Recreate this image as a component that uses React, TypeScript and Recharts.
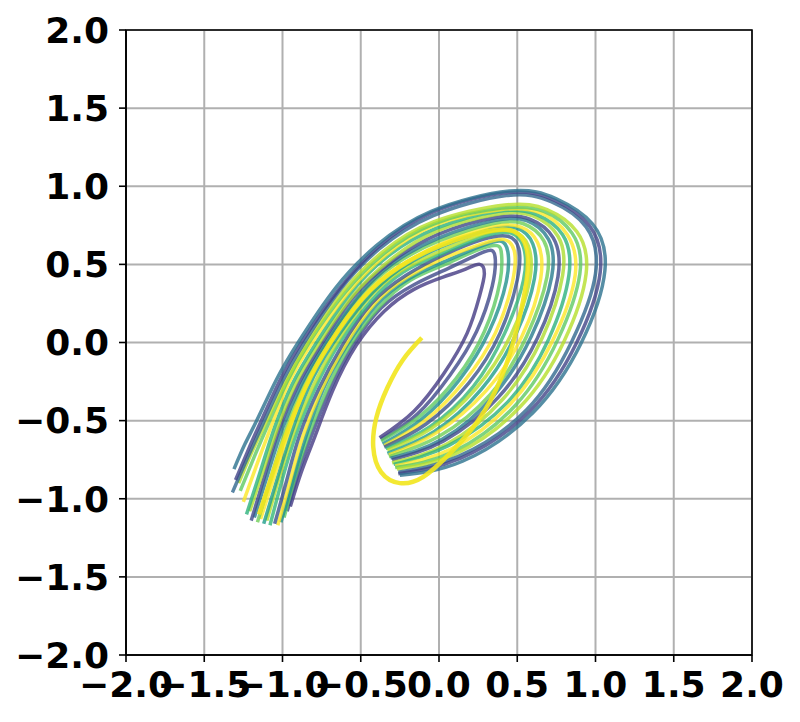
import React from 'react'
import { LineChart, Line, XAxis, YAxis, CartesianGrid, ReferenceArea } from 'recharts'

type Pt = [number, number]

const TICKS = [-2, -1.5, -1, -0.5, 0, 0.5, 1, 1.5, 2]

// trajectories, inner (c00) to outer (c20)
const c00: Pt[] = [[-0.95, -1.05], [-0.88, -0.83], [-0.80, -0.62], [-0.68, -0.31], [-0.53, -0.02], [-0.35, 0.20], [-0.16, 0.34], [0.03, 0.42], [0.17, 0.47], [0.26, 0.50], [0.29, 0.44], [0.26, 0.30], [0.18, 0.06], [0.03, -0.20], [-0.16, -0.44], [-0.38, -0.61]]
const c01: Pt[] = [[-0.97, -1.08], [-0.90, -0.84], [-0.82, -0.61], [-0.70, -0.31], [-0.55, -0.02], [-0.37, 0.22], [-0.16, 0.37], [0.05, 0.47], [0.22, 0.55], [0.33, 0.59], [0.36, 0.53], [0.34, 0.36], [0.24, 0.07], [0.07, -0.21], [-0.14, -0.46], [-0.37, -0.62]]
const c02: Pt[] = [[-0.99, -1.12], [-0.92, -0.86], [-0.84, -0.61], [-0.72, -0.31], [-0.57, -0.02], [-0.38, 0.23], [-0.18, 0.40], [0.04, 0.50], [0.24, 0.59], [0.37, 0.62], [0.40, 0.56], [0.39, 0.39], [0.29, 0.07], [0.11, -0.23], [-0.12, -0.47], [-0.37, -0.63]]
const c03: Pt[] = [[-1.01, -1.15], [-0.93, -0.87], [-0.85, -0.60], [-0.74, -0.30], [-0.59, -0.02], [-0.40, 0.24], [-0.19, 0.41], [0.04, 0.52], [0.25, 0.61], [0.39, 0.65], [0.44, 0.58], [0.43, 0.39], [0.32, 0.07], [0.13, -0.24], [-0.11, -0.49], [-0.36, -0.65]]
const c04: Pt[] = [[-1.03, -1.17], [-0.95, -0.88], [-0.87, -0.60], [-0.75, -0.30], [-0.60, -0.02], [-0.41, 0.25], [-0.20, 0.42], [0.03, 0.54], [0.27, 0.63], [0.41, 0.66], [0.48, 0.59], [0.47, 0.39], [0.36, 0.06], [0.16, -0.25], [-0.09, -0.50], [-0.35, -0.66]]
const c05: Pt[] = [[-1.05, -1.16], [-0.97, -0.87], [-0.89, -0.59], [-0.77, -0.30], [-0.62, -0.02], [-0.43, 0.25], [-0.21, 0.43], [0.03, 0.56], [0.28, 0.66], [0.44, 0.68], [0.51, 0.60], [0.50, 0.40], [0.39, 0.06], [0.19, -0.26], [-0.08, -0.52], [-0.35, -0.67]]
const c06: Pt[] = [[-1.08, -1.17], [-1.00, -0.87], [-0.91, -0.58], [-0.79, -0.29], [-0.64, -0.01], [-0.44, 0.26], [-0.23, 0.45], [0.02, 0.57], [0.29, 0.68], [0.46, 0.70], [0.54, 0.61], [0.54, 0.40], [0.42, 0.06], [0.22, -0.28], [-0.06, -0.54], [-0.34, -0.68]]
const c07: Pt[] = [[-1.10, -1.14], [-1.02, -0.86], [-0.93, -0.58], [-0.81, -0.29], [-0.66, -0.01], [-0.46, 0.27], [-0.24, 0.46], [0.02, 0.59], [0.30, 0.70], [0.48, 0.71], [0.57, 0.62], [0.58, 0.40], [0.46, 0.05], [0.24, -0.29], [-0.05, -0.55], [-0.33, -0.69]]
const c08: Pt[] = [[-1.12, -1.16], [-1.03, -0.86], [-0.94, -0.57], [-0.83, -0.28], [-0.68, -0.01], [-0.47, 0.27], [-0.25, 0.47], [0.01, 0.61], [0.31, 0.72], [0.50, 0.73], [0.60, 0.63], [0.61, 0.41], [0.49, 0.05], [0.27, -0.30], [-0.03, -0.57], [-0.33, -0.71]]
const c09: Pt[] = [[-1.14, -1.13], [-1.05, -0.85], [-0.96, -0.57], [-0.85, -0.28], [-0.70, -0.01], [-0.49, 0.28], [-0.26, 0.48], [0.01, 0.63], [0.32, 0.74], [0.52, 0.74], [0.63, 0.64], [0.65, 0.41], [0.53, 0.04], [0.30, -0.31], [-0.02, -0.58], [-0.32, -0.72]]
const c10: Pt[] = [[-1.16, -1.15], [-1.07, -0.85], [-0.98, -0.56], [-0.87, -0.28], [-0.72, -0.01], [-0.51, 0.29], [-0.28, 0.50], [0.00, 0.65], [0.34, 0.76], [0.54, 0.76], [0.67, 0.65], [0.69, 0.42], [0.56, 0.04], [0.33, -0.33], [0.00, -0.60], [-0.32, -0.73]]
const c11: Pt[] = [[-1.18, -1.12], [-1.09, -0.83], [-1.00, -0.55], [-0.88, -0.27], [-0.73, -0.01], [-0.52, 0.29], [-0.29, 0.51], [0.00, 0.67], [0.35, 0.78], [0.56, 0.78], [0.70, 0.66], [0.72, 0.42], [0.59, 0.04], [0.35, -0.34], [0.02, -0.62], [-0.31, -0.74]]
const c12: Pt[] = [[-1.20, -1.14], [-1.11, -0.84], [-1.02, -0.55], [-0.90, -0.27], [-0.75, -0.01], [-0.54, 0.30], [-0.30, 0.52], [-0.01, 0.69], [0.36, 0.80], [0.58, 0.79], [0.73, 0.67], [0.76, 0.42], [0.63, 0.03], [0.38, -0.35], [0.03, -0.63], [-0.30, -0.75]]
const c13: Pt[] = [[-1.21, -1.08], [-1.12, -0.81], [-1.03, -0.54], [-0.92, -0.27], [-0.77, -0.01], [-0.55, 0.30], [-0.31, 0.53], [-0.02, 0.71], [0.37, 0.82], [0.60, 0.81], [0.76, 0.68], [0.79, 0.43], [0.66, 0.03], [0.41, -0.36], [0.05, -0.65], [-0.30, -0.77]]
const c14: Pt[] = [[-1.23, -1.10], [-1.14, -0.82], [-1.05, -0.54], [-0.94, -0.27], [-0.79, -0.01], [-0.57, 0.31], [-0.33, 0.55], [-0.02, 0.73], [0.38, 0.84], [0.62, 0.82], [0.79, 0.69], [0.83, 0.43], [0.70, 0.02], [0.44, -0.38], [0.06, -0.66], [-0.29, -0.78]]
const c15: Pt[] = [[-1.25, -1.02], [-1.16, -0.77], [-1.07, -0.53], [-0.96, -0.26], [-0.81, 0.00], [-0.58, 0.32], [-0.34, 0.56], [-0.03, 0.75], [0.39, 0.85], [0.65, 0.83], [0.82, 0.69], [0.87, 0.43], [0.73, 0.02], [0.46, -0.39], [0.08, -0.68], [-0.28, -0.79]]
const c16: Pt[] = [[-1.27, -0.95], [-1.18, -0.73], [-1.09, -0.52], [-0.97, -0.25], [-0.83, 0.00], [-0.60, 0.32], [-0.35, 0.57], [-0.03, 0.76], [0.40, 0.86], [0.67, 0.84], [0.85, 0.70], [0.90, 0.44], [0.76, 0.02], [0.49, -0.40], [0.09, -0.70], [-0.28, -0.80]]
const c17: Pt[] = [[-1.28, -0.90], [-1.20, -0.71], [-1.11, -0.52], [-0.98, -0.25], [-0.84, 0.00], [-0.61, 0.33], [-0.36, 0.58], [-0.04, 0.77], [0.42, 0.88], [0.69, 0.85], [0.88, 0.71], [0.94, 0.44], [0.80, 0.01], [0.52, -0.41], [0.11, -0.71], [-0.27, -0.81]]
const c18: Pt[] = [[-1.32, -0.96], [-1.22, -0.73], [-1.12, -0.51], [-1.00, -0.25], [-0.86, 0.00], [-0.63, 0.34], [-0.38, 0.60], [-0.04, 0.81], [0.43, 0.94], [0.72, 0.90], [0.94, 0.74], [1.00, 0.44], [0.85, 0.01], [0.56, -0.43], [0.12, -0.73], [-0.26, -0.83]]
const c19: Pt[] = [[-1.30, -0.88], [-1.22, -0.69], [-1.14, -0.51], [-1.02, -0.25], [-0.88, 0.00], [-0.64, 0.34], [-0.39, 0.61], [-0.05, 0.83], [0.44, 0.96], [0.74, 0.91], [0.96, 0.75], [1.03, 0.45], [0.88, 0.00], [0.58, -0.44], [0.14, -0.74], [-0.26, -0.84]]
const c20: Pt[] = [[-1.31, -0.81], [-1.24, -0.65], [-1.16, -0.49], [-1.04, -0.24], [-0.90, 0.00], [-0.66, 0.35], [-0.40, 0.62], [-0.05, 0.84], [0.45, 0.97], [0.75, 0.92], [0.98, 0.76], [1.06, 0.46], [0.91, 0.00], [0.60, -0.45], [0.15, -0.76], [-0.25, -0.85]]
// the one that keeps going and curls up in the middle
const spiral: Pt[] = [[-1.15, -1.10], [-1.06, -0.83], [-0.97, -0.57], [-0.85, -0.28], [-0.70, -0.01], [-0.49, 0.28], [-0.26, 0.48], [0.01, 0.62], [0.30, 0.71], [0.48, 0.71], [0.56, 0.60], [0.56, 0.40], [0.50, 0.10], [0.40, -0.22], [0.25, -0.50], [0.07, -0.71], [-0.10, -0.86], [-0.25, -0.90], [-0.37, -0.83], [-0.42, -0.67], [-0.40, -0.48], [-0.33, -0.29], [-0.23, -0.11], [-0.11, 0.03]]

const curves: Pt[][] = [c00, c01, c02, c03, c04, c05, c06, c07, c08, c09, c10, c11, c12, c13, c14, c15, c16, c17, c18, c19, c20]
const colors = [
  '#443a83', '#3e4989', '#5ec962', '#21918c', '#fde725', '#3b528b', '#35b779',
  '#b5de2b', '#1f9e89', '#fde725', '#6ece58', '#287c8e', '#3e4989', '#addc30',
  '#2db27d', '#fde725', '#5ec962', '#b5de2b', '#31688e', '#414487', '#2c728e',
]

const toRows = (pts: Pt[]) => pts.map(([x, y]) => ({ x, y }))

function fmt(v: number) {
  return (v < 0 ? '\u2212' : '') + Math.abs(v).toFixed(1)
}

const tickStyle = { fontFamily: 'DejaVu Sans', fontWeight: 'bold' as const, fontSize: 36, fill: '#000' }

export default function App() {
  return (
    <div style={{ position: 'absolute', left: 0, top: 0, background: '#fff' }}>
      <LineChart width={800} height={722} margin={{ top: 30, right: 48, bottom: 30, left: 0 }}>
        <CartesianGrid stroke="#b0b0b0" strokeWidth={2} />
        <XAxis
          type="number" dataKey="x" domain={[-2, 2]} ticks={TICKS} interval={0} height={37}
          tickFormatter={fmt} tick={tickStyle} tickSize={7} tickMargin={9}
          axisLine={{ stroke: '#000', strokeWidth: 1.6 }} tickLine={{ stroke: '#000', strokeWidth: 1.6 }}
          allowDataOverflow
        />
        <YAxis
          type="number" dataKey="y" domain={[-2, 2]} ticks={TICKS} interval={0} width={126}
          tickFormatter={fmt} tick={tickStyle} tickSize={7} tickMargin={10}
          axisLine={{ stroke: '#000', strokeWidth: 1.6 }} tickLine={{ stroke: '#000', strokeWidth: 1.6 }}
          allowDataOverflow
        />
        {curves.map((c, i) => (
          <Line
            key={i} data={toRows(c)} dataKey="y" type="natural" stroke={colors[i]}
            strokeOpacity={0.8} strokeWidth={3.5} dot={false} isAnimationActive={false}
          />
        ))}
        <Line
          data={toRows(spiral)} dataKey="y" type="natural" stroke="#f2e51d"
          strokeOpacity={0.9} strokeWidth={4.5} dot={false} isAnimationActive={false}
        />
        <ReferenceArea x1={-2} x2={2} y1={-2} y2={2} fill="none" stroke="#000" strokeWidth={1.6} ifOverflow="visible" />
      </LineChart>
    </div>
  )
}
